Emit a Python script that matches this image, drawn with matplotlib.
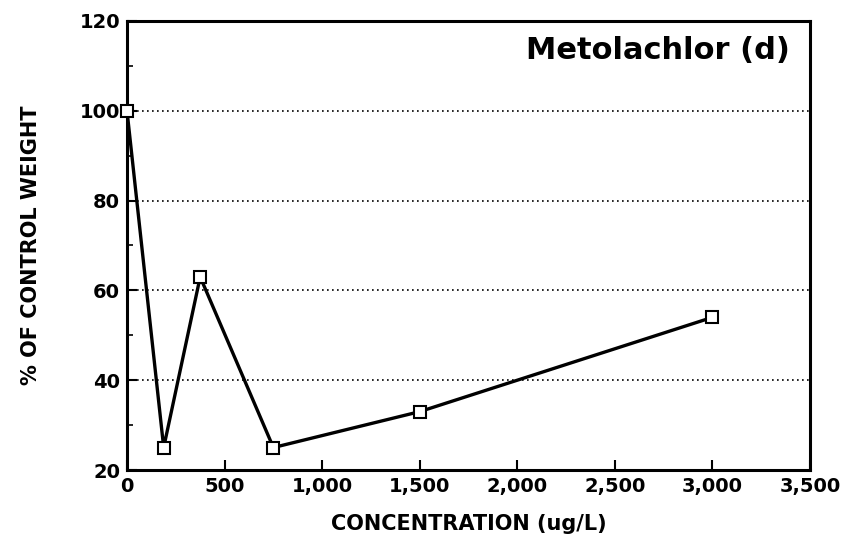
import matplotlib
matplotlib.use("Agg")
import matplotlib.pyplot as plt
from matplotlib.ticker import MultipleLocator, FuncFormatter

conc = [0, 188, 375, 750, 1500, 3000]
pct = [100, 25, 63, 25, 33, 54]
x_ticks = [0, 500, 1000, 1500, 2000, 2500, 3000, 3500]
y_ticks = [20, 40, 60, 80, 100, 120]

plt.rcParams['font.family'] = ['DejaVu Sans']
plt.rcParams['font.weight'] = 'bold'

fig = plt.figure(figsize=(8.48, 5.37), dpi=100)
ax = fig.add_axes([127/848, 1-470/537, (810-127)/848, (470-21)/537])

ax.plot(conc, pct, color='black', lw=2.4, marker='s', ms=8, mfc='white',
        mec='black', mew=1.5, zorder=3, clip_on=False)

ax.set_xlim(0, 3500)
ax.set_ylim(20, 120)
ax.set_xticks(x_ticks)
ax.set_yticks(y_ticks)
ax.xaxis.set_major_formatter(FuncFormatter(lambda v, p: f"{int(v):,}"))
ax.yaxis.set_minor_locator(MultipleLocator(10))
ax.tick_params(axis='both', which='major', direction='in', length=7, width=1.5,
               labelsize=14, pad=5)
ax.tick_params(axis='y', which='minor', direction='in', length=4, width=1.2)
for lab in ax.get_xticklabels() + ax.get_yticklabels():
    lab.set_fontweight('bold')

for yv in [40, 60, 80, 100]:
    ax.axhline(yv, color='black', lw=1.2, ls=(0, (1, 2)), zorder=1)

for s in ax.spines.values():
    s.set_linewidth(2.2)

ax.set_xlabel('CONCENTRATION (ug/L)', fontsize=15, fontweight='bold', labelpad=13)
ax.set_ylabel('% OF CONTROL WEIGHT', fontsize=15, fontweight='bold', labelpad=28)

ax.text(0.971, 0.935, 'Metolachlor (d)', transform=ax.transAxes, ha='right', va='center',
        fontsize=22, fontweight='bold')

fig.savefig('out.png', dpi=100)
